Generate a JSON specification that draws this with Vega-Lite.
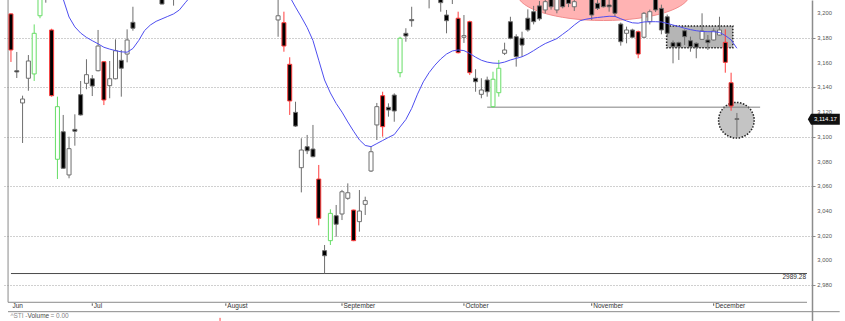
{
  "$schema": "https://vega.github.io/schema/vega-lite/v6.json",
  "width": 809,
  "height": 321,
  "autosize": {"type": "none"},
  "padding": {"left": 3, "top": 0, "right": 33, "bottom": 0},
  "background": "white",
  "config": {"view": {"stroke": null}, "font": "Liberation Sans"},
  "datasets": {
    "candles": [
      {"i":0,"o":3199.5,"h":3200,"l":3160.6,"c":3170.3,"s":"bear"},
      {"i":1,"o":3153.5,"h":3168.7,"l":3147.6,"c":3152.5,"s":"none"},
      {"i":2,"o":3127.4,"h":3133.3,"l":3095,"c":3130.6,"s":"none"},
      {"i":3,"o":3147.4,"h":3166.2,"l":3137.3,"c":3161.4,"s":"none"},
      {"i":4,"o":3150.9,"h":3191,"l":3145.2,"c":3183.8,"s":"bull"},
      {"i":5,"o":3198,"h":3225,"l":3196,"c":3220,"s":"bull"},
      {"i":6,"o":3228,"h":3235,"l":3208.6,"c":3222,"s":"none"},
      {"i":7,"o":3186.5,"h":3187.5,"l":3132.5,"c":3133.3,"s":"bear"},
      {"i":8,"o":3081.8,"h":3132.5,"l":3065.8,"c":3124.4,"s":"bull"},
      {"i":9,"o":3104.1,"h":3117.7,"l":3074,"c":3074.5,"s":"none"},
      {"i":10,"o":3069.1,"h":3100.1,"l":3066.4,"c":3090.4,"s":"none"},
      {"i":11,"o":3106,"h":3118.2,"l":3092.8,"c":3104.5,"s":"none"},
      {"i":12,"o":3134.1,"h":3145.2,"l":3117.2,"c":3117.7,"s":"none"},
      {"i":13,"o":3143.3,"h":3162.8,"l":3138.5,"c":3150.3,"s":"none"},
      {"i":14,"o":3147,"h":3150,"l":3133,"c":3141.1,"s":"none"},
      {"i":15,"o":3153.5,"h":3186.5,"l":3153,"c":3173.5,"s":"none"},
      {"i":16,"o":3160.8,"h":3161,"l":3125.7,"c":3129.8,"s":"bear"},
      {"i":17,"o":3141.4,"h":3161.4,"l":3131.2,"c":3147,"s":"none"},
      {"i":18,"o":3147,"h":3178.9,"l":3146.5,"c":3169.7,"s":"none"},
      {"i":19,"o":3161.9,"h":3170.3,"l":3132.5,"c":3155.5,"s":"none"},
      {"i":20,"o":3167,"h":3187,"l":3160.3,"c":3178.4,"s":"none"},
      {"i":21,"o":3192.7,"h":3205.3,"l":3185.9,"c":3187.9,"s":"none"},
      {"i":26,"o":3216,"h":3220,"l":3207.3,"c":3207.5,"s":"none"},
      {"i":28,"o":3216,"h":3225,"l":3206.2,"c":3220,"s":"none"},
      {"i":46,"o":3194.6,"h":3216,"l":3181,"c":3198,"s":"none"},
      {"i":47,"o":3192.4,"h":3201.3,"l":3168.9,"c":3173.5,"s":"bear"},
      {"i":48,"o":3158.7,"h":3164.4,"l":3117.7,"c":3129,"s":"bear"},
      {"i":49,"o":3119.8,"h":3128.4,"l":3108,"c":3108.7,"s":"none"},
      {"i":50,"o":3075,"h":3098.8,"l":3055,"c":3089.3,"s":"none"},
      {"i":51,"o":3092,"h":3101.5,"l":3086,"c":3088.7,"s":"none"},
      {"i":52,"o":3090.1,"h":3109.6,"l":3083.4,"c":3083.9,"s":"none"},
      {"i":53,"o":3065.8,"h":3077.2,"l":3028.3,"c":3034,"s":"bear"},
      {"i":54,"o":3007.8,"h":3012.4,"l":2989.28,"c":3003.7,"s":"none"},
      {"i":55,"o":3015.9,"h":3041.3,"l":3012.4,"c":3038,"s":"bull"},
      {"i":56,"o":3036.1,"h":3044.8,"l":3019.1,"c":3029.2,"s":"none"},
      {"i":57,"o":3037.5,"h":3057,"l":3032.6,"c":3055.5,"s":"none"},
      {"i":58,"o":3050.2,"h":3062.3,"l":3049,"c":3054.7,"s":"none"},
      {"i":59,"o":3040.7,"h":3041,"l":3015.5,"c":3015.9,"s":"bear"},
      {"i":60,"o":3031.3,"h":3056.9,"l":3023.2,"c":3039.9,"s":"none"},
      {"i":61,"o":3045.3,"h":3051.5,"l":3036.7,"c":3048.3,"s":"none"},
      {"i":62,"o":3072.3,"h":3092,"l":3071.5,"c":3087.9,"s":"none"},
      {"i":63,"o":3109.6,"h":3127.4,"l":3097.4,"c":3124.4,"s":"none"},
      {"i":64,"o":3133.3,"h":3136.5,"l":3100.1,"c":3108.2,"s":"bear"},
      {"i":65,"o":3123.9,"h":3127.1,"l":3116.3,"c":3121.7,"s":"none"},
      {"i":66,"o":3133.8,"h":3135.2,"l":3112.2,"c":3120.9,"s":"none"},
      {"i":67,"o":3151.9,"h":3181,"l":3148.2,"c":3179.8,"s":"bull"},
      {"i":68,"o":3183.8,"h":3187.9,"l":3177,"c":3181.6,"s":"none"},
      {"i":69,"o":3195,"h":3205.3,"l":3189.1,"c":3194,"s":"none"},
      {"i":72,"o":3218,"h":3225,"l":3204,"c":3214,"s":"none"},
      {"i":74,"o":3215,"h":3220,"l":3201.3,"c":3208.6,"s":"none"},
      {"i":75,"o":3198.6,"h":3202.7,"l":3183.8,"c":3194,"s":"none"},
      {"i":76,"o":3214,"h":3222,"l":3207.5,"c":3218,"s":"none"},
      {"i":77,"o":3196,"h":3201.3,"l":3167.5,"c":3168.1,"s":"bear"},
      {"i":78,"o":3180.6,"h":3198.6,"l":3176,"c":3181.9,"s":"none"},
      {"i":79,"o":3193.2,"h":3194,"l":3150,"c":3151.9,"s":"bear"},
      {"i":80,"o":3147.4,"h":3154.7,"l":3136.5,"c":3144.6,"s":"none"},
      {"i":81,"o":3134.4,"h":3147.4,"l":3131.2,"c":3137.9,"s":"none"},
      {"i":82,"o":3146,"h":3148.7,"l":3132.5,"c":3136.5,"s":"none"},
      {"i":83,"o":3124.4,"h":3152.7,"l":3123.5,"c":3146.6,"s":"bull"},
      {"i":84,"o":3135.7,"h":3162.2,"l":3132.5,"c":3155.5,"s":"bull"},
      {"i":85,"o":3167.6,"h":3176.2,"l":3166.2,"c":3170.3,"s":"none"},
      {"i":86,"o":3193.2,"h":3197.2,"l":3179,"c":3179.8,"s":"none"},
      {"i":87,"o":3181.1,"h":3183,"l":3156.8,"c":3164.9,"s":"none"},
      {"i":88,"o":3179.8,"h":3185.1,"l":3164.9,"c":3174.3,"s":"none"},
      {"i":89,"o":3196,"h":3203.2,"l":3185.1,"c":3186.5,"s":"none"},
      {"i":90,"o":3201.3,"h":3206,"l":3191,"c":3193.2,"s":"none"},
      {"i":91,"o":3206,"h":3210,"l":3194,"c":3195.5,"s":"none"},
      {"i":92,"o":3202.7,"h":3213,"l":3200,"c":3209.4,"s":"none"},
      {"i":93,"o":3212,"h":3216,"l":3203,"c":3205.3,"s":"none"},
      {"i":94,"o":3202.7,"h":3216,"l":3200,"c":3213,"s":"none"},
      {"i":95,"o":3212,"h":3216,"l":3204,"c":3205.3,"s":"none"},
      {"i":96,"o":3214,"h":3218,"l":3205,"c":3208,"s":"none"},
      {"i":97,"o":3205.3,"h":3214,"l":3201.9,"c":3209.4,"s":"none"},
      {"i":100,"o":3212,"h":3216,"l":3194.6,"c":3198.6,"s":"none"},
      {"i":101,"o":3208.1,"h":3212,"l":3202.7,"c":3204,"s":"none"},
      {"i":102,"o":3213,"h":3217,"l":3204.7,"c":3205.3,"s":"none"},
      {"i":103,"o":3206.7,"h":3212,"l":3201.3,"c":3205.3,"s":"none"},
      {"i":104,"o":3213,"h":3217,"l":3197.2,"c":3200,"s":"none"},
      {"i":105,"o":3191.3,"h":3192.5,"l":3173.8,"c":3177,"s":"none"},
      {"i":106,"o":3183.8,"h":3189.2,"l":3175.7,"c":3186.5,"s":"none"},
      {"i":107,"o":3186.5,"h":3187.5,"l":3180,"c":3180.6,"s":"none"},
      {"i":108,"o":3185.1,"h":3186,"l":3163.6,"c":3167,"s":"bear"},
      {"i":109,"o":3180.6,"h":3201,"l":3180,"c":3200,"s":"none"},
      {"i":110,"o":3193.2,"h":3203,"l":3191,"c":3201.3,"s":"none"},
      {"i":111,"o":3212,"h":3216,"l":3201,"c":3202.7,"s":"none"},
      {"i":112,"o":3204,"h":3207,"l":3183,"c":3186.5,"s":"none"},
      {"i":113,"o":3197.2,"h":3199,"l":3181,"c":3183.8,"s":"none"},
      {"i":114,"o":3176.2,"h":3178,"l":3159.5,"c":3173,"s":"none"},
      {"i":115,"o":3176.2,"h":3177,"l":3162.2,"c":3173,"s":"none"},
      {"i":116,"o":3185.9,"h":3187,"l":3174.3,"c":3181.1,"s":"none"},
      {"i":117,"o":3177.8,"h":3181.1,"l":3168.9,"c":3173,"s":"none"},
      {"i":118,"o":3175.7,"h":3176.5,"l":3163.6,"c":3172.5,"s":"none"},
      {"i":119,"o":3178.9,"h":3200,"l":3178.5,"c":3185.7,"s":"none"},
      {"i":120,"o":3178.4,"h":3182.4,"l":3170.3,"c":3176.2,"s":"none"},
      {"i":121,"o":3178.4,"h":3187.9,"l":3178,"c":3185.7,"s":"none"},
      {"i":122,"o":3182.4,"h":3197.2,"l":3182,"c":3186.5,"s":"none"},
      {"i":123,"o":3176.5,"h":3187,"l":3151.9,"c":3160.3,"s":"bear"},
      {"i":124,"o":3143.8,"h":3151.9,"l":3121.1,"c":3124.9,"s":"bear"},
      {"i":125,"o":3114.6,"h":3119.3,"l":3100.1,"c":3114.17,"s":"none"}
    ],
    "ma": [
      {"seg":"a","i":8,"ma":3222},{"seg":"a","i":9,"ma":3211.5},{"seg":"a","i":10,"ma":3197},{"seg":"a","i":11,"ma":3189},
      {"seg":"a","i":12,"ma":3184},{"seg":"a","i":13,"ma":3180.5},{"seg":"a","i":14,"ma":3177.8},{"seg":"a","i":15,"ma":3175.3},
      {"seg":"a","i":16,"ma":3172.5},{"seg":"a","i":17,"ma":3171},{"seg":"a","i":18,"ma":3169.8},{"seg":"a","i":19,"ma":3168.8},
      {"seg":"a","i":20,"ma":3168.5},{"seg":"a","i":21,"ma":3171.5},{"seg":"a","i":22,"ma":3178},{"seg":"a","i":23,"ma":3186},
      {"seg":"a","i":24,"ma":3190.5},{"seg":"a","i":25,"ma":3193.5},{"seg":"a","i":26,"ma":3195.5},{"seg":"a","i":27,"ma":3197.5},
      {"seg":"a","i":28,"ma":3199.5},{"seg":"a","i":29,"ma":3202.7},{"seg":"a","i":30,"ma":3208.5},{"seg":"a","i":31,"ma":3214},
      {"seg":"b","i":47,"ma":3222},{"seg":"b","i":48,"ma":3213.5},{"seg":"b","i":49,"ma":3205},{"seg":"b","i":50,"ma":3197},
      {"seg":"b","i":51,"ma":3188.5},{"seg":"b","i":52,"ma":3178},{"seg":"b","i":53,"ma":3162},{"seg":"b","i":54,"ma":3146},
      {"seg":"b","i":55,"ma":3135.5},{"seg":"b","i":56,"ma":3127},{"seg":"b","i":57,"ma":3120},{"seg":"b","i":58,"ma":3112},
      {"seg":"b","i":59,"ma":3104.5},{"seg":"b","i":60,"ma":3097.5},{"seg":"b","i":61,"ma":3093},{"seg":"b","i":62,"ma":3092},
      {"seg":"b","i":63,"ma":3094.5},{"seg":"b","i":64,"ma":3097},{"seg":"b","i":65,"ma":3099.5},{"seg":"b","i":66,"ma":3101.8},
      {"seg":"b","i":67,"ma":3108},{"seg":"b","i":68,"ma":3114},{"seg":"b","i":69,"ma":3123},{"seg":"b","i":70,"ma":3134.5},
      {"seg":"b","i":71,"ma":3144.5},{"seg":"b","i":72,"ma":3152},{"seg":"b","i":73,"ma":3158},{"seg":"b","i":74,"ma":3163},
      {"seg":"b","i":75,"ma":3167},{"seg":"b","i":76,"ma":3169.5},{"seg":"b","i":77,"ma":3170.3},{"seg":"b","i":78,"ma":3169.8},
      {"seg":"b","i":79,"ma":3167.5},{"seg":"b","i":80,"ma":3164.5},{"seg":"b","i":81,"ma":3162},{"seg":"b","i":82,"ma":3160.5},
      {"seg":"b","i":83,"ma":3159.7},{"seg":"b","i":84,"ma":3159.5},{"seg":"b","i":85,"ma":3160.5},{"seg":"b","i":86,"ma":3162.2},
      {"seg":"b","i":87,"ma":3163.5},{"seg":"b","i":88,"ma":3164.8},{"seg":"b","i":89,"ma":3167},{"seg":"b","i":90,"ma":3169.8},
      {"seg":"b","i":91,"ma":3172.8},{"seg":"b","i":92,"ma":3175.5},{"seg":"b","i":93,"ma":3177.5},{"seg":"b","i":94,"ma":3179.5},
      {"seg":"b","i":95,"ma":3183},{"seg":"b","i":96,"ma":3186.5},{"seg":"b","i":97,"ma":3190.5},{"seg":"b","i":98,"ma":3194},
      {"seg":"b","i":99,"ma":3195.2},{"seg":"b","i":100,"ma":3196},{"seg":"b","i":101,"ma":3196.6},{"seg":"b","i":102,"ma":3197.1},
      {"seg":"b","i":103,"ma":3197.6},{"seg":"b","i":104,"ma":3197.5},{"seg":"b","i":105,"ma":3195.6},{"seg":"b","i":106,"ma":3193.8},
      {"seg":"b","i":107,"ma":3192.3},{"seg":"b","i":108,"ma":3192},{"seg":"b","i":109,"ma":3193},{"seg":"b","i":110,"ma":3193.2},
      {"seg":"b","i":111,"ma":3193.2},{"seg":"b","i":112,"ma":3193},{"seg":"b","i":113,"ma":3191.8},{"seg":"b","i":114,"ma":3190.5},
      {"seg":"b","i":115,"ma":3189.3},{"seg":"b","i":116,"ma":3187.9},{"seg":"b","i":117,"ma":3186.8},{"seg":"b","i":118,"ma":3185.9},
      {"seg":"b","i":119,"ma":3185.3},{"seg":"b","i":120,"ma":3185.1},{"seg":"b","i":121,"ma":3185.1},{"seg":"b","i":122,"ma":3184.5},
      {"seg":"b","i":123,"ma":3182},{"seg":"b","i":124,"ma":3178.5},{"seg":"b","i":125,"ma":3171.7}
    ],
    "segments": [
      {"i":-0.5,"i2":-0.5,"v":2966,"v2":3210.77,"kind":"frame"},
      {"i":-0.51,"i2":137.07,"v":2966,"v2":2966,"kind":"frame"},
      {"i":-0.51,"i2":142.7,"v":2958.4,"v2":2958.4,"kind":"frame"},
      {"i":0,"i2":137.07,"v":2989.28,"v2":2989.28,"kind":"support"},
      {"i":82,"i2":129,"v":3124,"v2":3124,"kind":"trend"},
      {"i":14,"i2":14,"v":2965.1,"v2":2963.2,"kind":"tick"},
      {"i":37,"i2":37,"v":2965.1,"v2":2963.2,"kind":"tick"},
      {"i":57,"i2":57,"v":2965.1,"v2":2963.2,"kind":"tick"},
      {"i":78,"i2":78,"v":2965.1,"v2":2963.2,"kind":"tick"},
      {"i":100,"i2":100,"v":2965.1,"v2":2963.2,"kind":"tick"},
      {"i":121,"i2":121,"v":2965.1,"v2":2963.2,"kind":"tick"},
      {"i":36,"i2":36,"v":2953.4,"v2":2950.9,"kind":"volume"}
    ],
    "months": [
      {"i":0,"label":"Jun"},{"i":14,"label":"Jul"},{"i":37,"label":"August"},{"i":57,"label":"September"},
      {"i":78,"label":"October"},{"i":100,"label":"November"},{"i":121,"label":"December"}
    ],
    "legend": [
      {"i":-0.1,"label":"^STI -","part":"name"},
      {"i":2.85,"label":"Volume","part":"series"},
      {"i":6.8,"label":"= 0.00","part":"value"}
    ],
    "yticks": [
      {"v":2980},{"v":3000},{"v":3020},{"v":3040},{"v":3060},{"v":3080},
      {"v":3100},{"v":3120},{"v":3140},{"v":3160},{"v":3180},{"v":3200}
    ]
  },
  "layer": [
    {
      "data": {"values": [{"i":102.04,"v":3215.6,"note":"topping zone"}]},
      "mark": {"type":"point","shape":"M -1 0 A 1 0.308 0 1 0 1 0 A 1 0.308 0 1 0 -1 0 Z","size":29584,"filled":true,"fill":"#ffb3b3","stroke":"#f28c8c","strokeWidth":1,"opacity":1},
      "encoding": {
        "x": {"field":"i","type":"quantitative","scale":{"domain":[-0.51,137.07],"nice":false,"zero":false},"axis":null},
        "y": {"field":"v","type":"quantitative","title":null,"scale":{"domain":[2950.85,3210.77],"nice":false,"zero":false},
          "axis": {"orient":"right","values":[2980,3000,3020,3040,3060,3080,3100,3120,3140,3160,3180,3200],"title":null,"labels":false,
            "grid":true,"gridDash":[1,2],"gridColor":"#a0a0a0","gridWidth":1,
            "domainColor":"#8c8c8c","domainWidth":1.5,"tickColor":"#8c8c8c","tickSize":3}}
      }
    },
    {
      "data": {"values": [{"i":112.9,"i2":124.3,"v":3189.7,"v2":3172.1}]},
      "mark": {"type":"rect","fill":"#b5b5b5","stroke":"#222222","strokeDash":[1.5,1.5],"strokeWidth":1.5},
      "encoding": {
        "x": {"field":"i","type":"quantitative","scale":{"domain":[-0.51,137.07],"nice":false,"zero":false},"axis":null},
        "x2": {"field":"i2"},
        "y": {"field":"v","type":"quantitative","title":null,"scale":{"domain":[2950.85,3210.77],"nice":false,"zero":false}},
        "y2": {"field":"v2"}
      }
    },
    {
      "data": {"values": [{"i":124.91,"v":3113.4}]},
      "mark": {"type":"point","shape":"circle","size":1267,"filled":true,"fill":"#c4c4c4","stroke":"#222222","strokeDash":[1.5,1.5],"strokeWidth":1.5,"opacity":1},
      "encoding": {
        "x": {"field":"i","type":"quantitative","scale":{"domain":[-0.51,137.07],"nice":false,"zero":false},"axis":null},
        "y": {"field":"v","type":"quantitative","title":null,"scale":{"domain":[2950.85,3210.77],"nice":false,"zero":false}}
      }
    },
    {
      "data": {"name":"segments"},
      "mark": {"type":"rule","strokeWidth":1},
      "encoding": {
        "x": {"field":"i","type":"quantitative","scale":{"domain":[-0.51,137.07],"nice":false,"zero":false},"axis":null},
        "x2": {"field":"i2"},
        "y": {"field":"v","type":"quantitative","title":null,"scale":{"domain":[2950.85,3210.77],"nice":false,"zero":false}},
        "y2": {"field":"v2"},
        "color": {"field":"kind","type":"nominal","legend":null,
          "scale":{"domain":["frame","support","trend","tick","volume"],"range":["#8a8a8a","#4a4a4a","#808080","#555555","#ff4040"]}}
      }
    },
    {
      "data": {"name":"candles"},
      "mark": {"type":"rule","strokeWidth":1,"clip":true},
      "encoding": {
        "x": {"field":"i","type":"quantitative","scale":{"domain":[-0.51,137.07],"nice":false,"zero":false},"axis":null},
        "y": {"field":"l","type":"quantitative","title":null,"scale":{"domain":[2950.85,3210.77],"nice":false,"zero":false}},
        "y2": {"field":"h"},
        "stroke": {"field":"s","type":"nominal","legend":null,
          "scale":{"domain":["bear","bull","none"],"range":["#ff3d3d","#66dd66","#6e6e6e"]}}
      }
    },
    {
      "data": {"name":"candles"},
      "mark": {"type":"bar","size":4,"strokeWidth":1,"clip":true},
      "encoding": {
        "x": {"field":"i","type":"quantitative","scale":{"domain":[-0.51,137.07],"nice":false,"zero":false},"axis":null},
        "y": {"field":"o","type":"quantitative","title":null,"scale":{"domain":[2950.85,3210.77],"nice":false,"zero":false}},
        "y2": {"field":"c"},
        "fill": {"condition":{"test":"datum.c < datum.o","value":"#000000"},"value":"#ffffff"},
        "stroke": {"field":"s","type":"nominal","legend":null,
          "scale":{"domain":["bear","bull","none"],"range":["#ff3d3d","#66dd66","#6e6e6e"]}}
      }
    },
    {
      "data": {"name":"ma"},
      "mark": {"type":"line","color":"#4e4ef0","strokeWidth":1,"clip":true},
      "encoding": {
        "x": {"field":"i","type":"quantitative","scale":{"domain":[-0.51,137.07],"nice":false,"zero":false},"axis":null},
        "y": {"field":"ma","type":"quantitative","title":null,"scale":{"domain":[2950.85,3210.77],"nice":false,"zero":false}},
        "detail": {"field":"seg","type":"nominal"}
      }
    },
    {
      "data": {"name":"yticks"},
      "mark": {"type":"text","align":"center","baseline":"middle","fontSize":5.8,"color":"#555555","font":"Liberation Sans"},
      "encoding": {
        "x": {"datum":140.1,"type":"quantitative","scale":{"domain":[-0.51,137.07],"nice":false,"zero":false},"axis":null},
        "y": {"field":"v","type":"quantitative","title":null,"scale":{"domain":[2950.85,3210.77],"nice":false,"zero":false}},
        "text": {"field":"v","type":"quantitative","format":","}
      }
    },
    {
      "data": {"name":"months"},
      "mark": {"type":"text","align":"left","baseline":"middle","dx":1.5,"fontSize":6.5,"color":"#333333","font":"Liberation Sans"},
      "encoding": {
        "x": {"field":"i","type":"quantitative","scale":{"domain":[-0.51,137.07],"nice":false,"zero":false},"axis":null},
        "y": {"datum":2962.75,"type":"quantitative","title":null,"scale":{"domain":[2950.85,3210.77],"nice":false,"zero":false}},
        "text": {"field":"label"}
      }
    },
    {
      "data": {"name":"legend"},
      "mark": {"type":"text","align":"left","baseline":"middle","fontSize":6.5,"font":"Liberation Sans"},
      "encoding": {
        "x": {"field":"i","type":"quantitative","scale":{"domain":[-0.51,137.07],"nice":false,"zero":false},"axis":null},
        "y": {"datum":2954.65,"type":"quantitative","title":null,"scale":{"domain":[2950.85,3210.77],"nice":false,"zero":false}},
        "text": {"field":"label"},
        "color": {"field":"part","type":"nominal","legend":null,"scale":{"domain":["name","series","value"],"range":["#333333","#ff3030","#333333"]}}
      }
    },
    {
      "data": {"values": [{"i":137.07,"v":2986.5,"label":"2989.28"}]},
      "mark": {"type":"text","align":"right","baseline":"middle","dx":-1,"fontSize":6.5,"color":"#333333","font":"Liberation Sans"},
      "encoding": {
        "x": {"field":"i","type":"quantitative","scale":{"domain":[-0.51,137.07],"nice":false,"zero":false},"axis":null},
        "y": {"field":"v","type":"quantitative","title":null,"scale":{"domain":[2950.85,3210.77],"nice":false,"zero":false}},
        "text": {"field":"label"}
      }
    },
    {
      "data": {"values": [{"i":139.97,"v":3114.17,"label":"3,114.17"}]},
      "mark": {"type":"point","shape":"M -1 0 L -0.8 -0.34 L 1 -0.34 L 1 0.34 L -0.8 0.34 Z","size":1024,"filled":true,"fill":"#111111","opacity":1,"strokeWidth":0},
      "encoding": {
        "x": {"field":"i","type":"quantitative","scale":{"domain":[-0.51,137.07],"nice":false,"zero":false},"axis":null},
        "y": {"field":"v","type":"quantitative","title":null,"scale":{"domain":[2950.85,3210.77],"nice":false,"zero":false}}
      }
    },
    {
      "data": {"values": [{"i":139.97,"v":3114.17,"label":"3,114.17"}]},
      "mark": {"type":"text","align":"center","baseline":"middle","dx":1.5,"fontSize":6,"color":"#ffffff","font":"Liberation Sans"},
      "encoding": {
        "x": {"field":"i","type":"quantitative","scale":{"domain":[-0.51,137.07],"nice":false,"zero":false},"axis":null},
        "y": {"field":"v","type":"quantitative","title":null,"scale":{"domain":[2950.85,3210.77],"nice":false,"zero":false}},
        "text": {"field":"label"}
      }
    }
  ]
}
